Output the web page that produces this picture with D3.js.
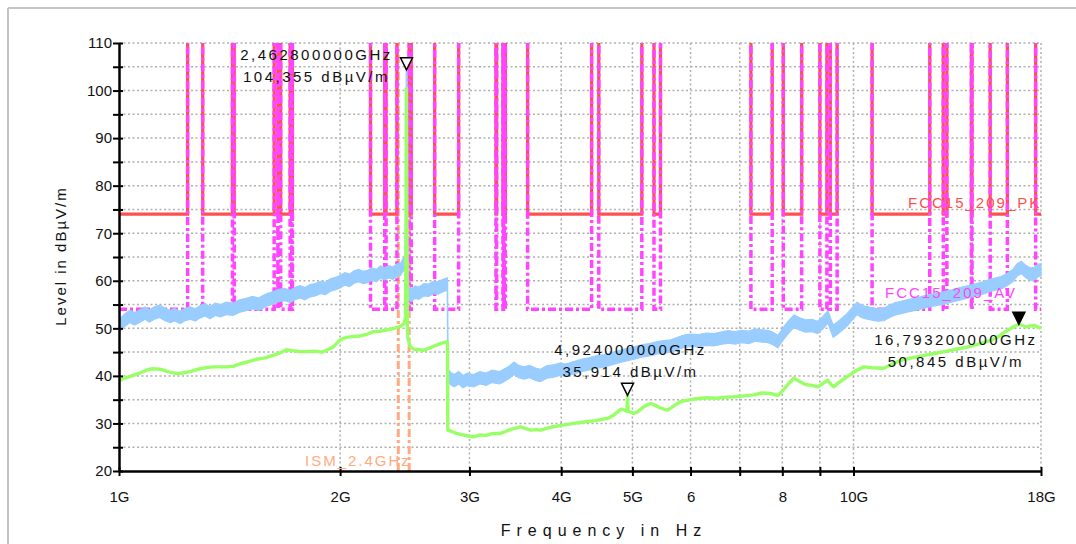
<!DOCTYPE html>
<html>
<head>
<meta charset="utf-8">
<script src="https://cdn.jsdelivr.net/npm/d3@7"></script>
<style>
  body { margin: 0; background: #fff; }
  svg { font-family: "Liberation Sans", Arial, sans-serif; }
</style>
</head>
<body>
<script>
const width = 1076,
      height = 544;

// frequency in GHz, level in dBµV/m
const peakTrace = [
  [1.000,50.4],[1.010,51.2],[1.020,51.8],[1.035,52.5],[1.050,52.0],[1.068,52.6],[1.085,53.2],[1.100,52.6],
  [1.120,53.3],[1.137,53.6],[1.155,52.9],[1.175,52.5],[1.190,52.9],[1.211,52.3],[1.230,52.9],[1.250,53.2],
  [1.270,52.8],[1.290,53.5],[1.310,53.9],[1.330,53.3],[1.352,54.0],[1.375,53.7],[1.400,54.2],[1.430,54.0],
  [1.460,54.7],[1.490,55.0],[1.520,55.4],[1.550,55.1],[1.590,56.0],[1.620,56.4],[1.650,56.9],[1.680,57.1],
  [1.710,56.7],[1.740,57.4],[1.765,57.7],[1.790,57.3],[1.820,57.9],[1.850,58.1],[1.880,58.6],[1.910,58.4],
  [1.940,59.1],[1.970,59.4],[2.000,59.8],[2.030,60.4],[2.060,60.1],[2.090,60.8],[2.120,61.1],[2.150,60.7],
  [2.180,60.9],[2.210,61.4],[2.240,61.1],[2.270,61.8],[2.300,61.5],[2.330,61.9],[2.360,61.6],[2.390,62.2],
  [2.420,62.5],[2.440,63.6],[2.452,62.8],[2.458,75],[2.4628,104.355],[2.467,78],[2.472,58.5],[2.480,57.2],
  [2.500,57.0],[2.530,57.6],[2.560,57.4],[2.600,58.1],[2.640,58.0],[2.680,58.6],[2.720,58.5],[2.760,59.0],
  [2.800,59.3],[2.803,40.2],[2.830,39.4],[2.860,39.0],[2.900,39.6],[2.940,38.8],[2.980,39.3],[3.040,39.0],
  [3.100,39.6],[3.160,39.3],[3.220,39.9],[3.300,39.6],[3.350,40.2],[3.400,40.8],[3.450,41.6],[3.500,40.9],
  [3.560,40.6],[3.620,40.9],[3.700,40.3],[3.750,40.1],[3.820,40.8],[3.900,41.0],[3.980,41.4],[4.060,41.2],
  [4.160,41.7],[4.260,42.2],[4.360,42.5],[4.460,42.9],[4.560,43.1],[4.660,43.5],[4.760,43.9],[4.860,44.3],
  [4.960,44.6],[5.060,44.9],[5.160,45.3],[5.280,45.5],[5.400,45.9],[5.520,46.1],[5.640,46.3],[5.760,46.8],
  [5.880,47.3],[6.000,47.5],[6.150,47.4],[6.300,47.7],[6.450,47.6],[6.600,47.9],[6.750,48.2],[6.900,48.0],
  [7.050,48.3],[7.200,48.1],[7.350,48.6],[7.500,48.4],[7.650,48.3],[7.780,47.8],[7.890,47.2],[8.000,48.6],
  [8.150,50.2],[8.300,51.5],[8.450,50.9],[8.600,50.5],[8.780,50.6],[8.940,50.2],[9.100,51.3],[9.230,52.4],
  [9.300,51.0],[9.380,49.4],[9.500,50.0],[9.650,50.9],[9.800,51.8],[9.950,53.0],[10.110,54.2],[10.250,53.6],
  [10.400,53.3],[10.600,53.0],[10.800,52.8],[11.000,52.9],[11.200,53.6],[11.400,54.1],[11.610,54.4],[11.900,54.8],
  [12.200,55.1],[12.500,55.6],[12.880,56.0],[13.200,56.3],[13.600,56.8],[14.000,57.3],[14.330,57.7],[14.700,58.1],
  [15.000,58.5],[15.400,59.1],[15.890,59.6],[16.200,60.3],[16.500,61.2],[16.700,62.3],[16.920,62.8],[17.150,62.0],
  [17.400,61.4],[17.630,61.5],[17.850,62.2],[18.000,62.3]
];

const avgTrace = [
  [1.000,39.0],[1.020,39.6],[1.040,40.0],[1.068,40.6],[1.090,41.2],[1.110,41.5],[1.137,41.4],[1.160,41.0],
  [1.180,40.7],[1.200,40.5],[1.220,40.6],[1.250,40.9],[1.289,41.5],[1.320,41.8],[1.350,41.9],[1.400,41.9],
  [1.430,42.0],[1.460,42.5],[1.500,43.0],[1.540,43.5],[1.580,43.8],[1.620,44.3],[1.660,44.9],[1.690,45.5],
  [1.720,45.3],[1.765,45.1],[1.800,45.1],[1.850,45.2],[1.890,45.0],[1.930,45.6],[1.958,46.1],[1.980,46.9],
  [2.000,47.6],[2.040,48.1],[2.090,48.3],[2.130,48.4],[2.180,48.8],[2.220,49.3],[2.270,49.4],[2.320,49.7],
  [2.370,50.0],[2.416,50.4],[2.445,51.0],[2.455,52.5],[2.459,70],[2.4628,100.5],[2.466,70],[2.469,50],
  [2.474,48.0],[2.490,46.2],[2.520,45.6],[2.560,45.5],[2.600,45.4],[2.650,45.9],[2.700,46.4],[2.750,46.9],
  [2.800,47.2],[2.803,28.6],[2.840,28.3],[2.880,27.9],[2.940,27.6],[3.000,27.3],[3.040,27.2],[3.100,27.6],
  [3.160,27.5],[3.230,27.9],[3.306,27.9],[3.360,28.3],[3.420,28.8],[3.470,29.0],[3.520,29.3],[3.580,28.9],
  [3.640,28.6],[3.700,28.7],[3.750,28.6],[3.830,29.0],[3.900,29.3],[4.000,29.6],[4.160,30.0],[4.300,30.3],
  [4.450,30.6],[4.630,31.1],[4.720,31.8],[4.820,33.0],[4.880,32.8],[4.915,32.6],[4.924,35.914],[4.933,32.6],
  [4.970,32.4],[5.020,32.1],[5.080,32.4],[5.150,33.2],[5.220,33.8],[5.296,34.2],[5.370,33.8],[5.450,33.3],
  [5.520,33.0],[5.587,32.8],[5.680,33.6],[5.818,34.6],[5.950,34.9],[6.100,35.2],[6.300,35.4],[6.500,35.3],
  [6.700,35.5],[6.873,35.6],[7.100,35.8],[7.320,36.0],[7.500,36.4],[7.700,36.3],[7.889,35.9],[8.000,36.8],
  [8.150,38.3],[8.295,39.5],[8.450,38.8],[8.600,38.2],[8.780,38.0],[8.944,37.7],[9.100,38.5],[9.230,39.1],
  [9.320,38.2],[9.406,37.7],[9.550,38.6],[9.798,39.8],[10.050,41.0],[10.330,41.9],[10.600,41.7],[11.000,41.6],
  [11.300,42.5],[11.610,43.3],[12.000,43.8],[12.400,44.2],[12.880,44.7],[13.400,45.2],[13.900,45.7],[14.330,46.1],
  [14.800,46.7],[15.400,47.5],[15.800,48.4],[16.100,49.3],[16.390,50.0],[16.600,50.5],[16.7932,50.845],[17.000,50.6],
  [17.200,50.3],[17.400,50.5],[17.630,50.6],[17.850,50.2],[18.000,50.0]
];

// FCC 15.205 restricted bands (GHz) where the 15.209 limits apply
const bandStart = [1.0, 1.3, 1.435, 1.6455, 1.66, 1.7188, 2.2, 2.31, 2.4835, 2.69, 3.26, 3.332, 3.3458,
                   3.6, 4.5, 5.35, 7.25, 8.025, 9.0, 9.3, 10.6, 13.25, 14.47, 15.35, 17.7];
const bandEnd   = [1.24, 1.427, 1.6265, 1.6465, 1.71, 1.7222, 2.3, 2.39, 2.5, 2.9, 3.267, 3.339, 3.358,
                   4.4, 5.15, 5.46, 7.75, 8.5, 9.2, 9.5, 12.7, 13.4, 14.5, 16.2, 18.0];
const pkLimit = 74, avLimit = 54, outOfBand = 130;

const ismEdges = [2.4, 2.4835];

const markerFreq  = [2.4628, 4.924, 16.7932];
const markerLevel = [104.355, 35.914, 50.845];
const markerText  = [["2,462800000GHz", "104,355 dBµV/m"],
                     ["4,924000000GHz", "35,914 dBµV/m"],
                     ["16,793200000GHz", "50,845 dBµV/m"]];
const markerFilled = [false, false, true];

const xTicks = [1, 2, 3, 4, 5, 6, 7, 8, 9, 10, 18];
const xTickLabels = ["1G", "2G", "3G", "4G", "5G", "6", "", "8", "", "10G", "18G"];
const yTicks = d3.range(20, 111, 5);

// layout
const plot = {left: 119, right: 1041, top: 43, bottom: 471};
const labelOffset = [[-90, -10, 12], [3, -40, -18], [-63, 21, 43]];
const peakBand = 1.3;   // drawn half thickness of the noisy peak trace, dB

const svg = d3.select("body")
    .append("svg")
    .attr("width", width)
    .attr("height", height);

// outer frame
svg.append("line").attr("x1", 8).attr("x2", width).attr("y1", 8).attr("y2", 8)
    .attr("stroke", "#c4c4c4").attr("stroke-width", 2);
svg.append("line").attr("x1", 8).attr("x2", 8).attr("y1", 8).attr("y2", height)
    .attr("stroke", "#c4c4c4").attr("stroke-width", 2);

const x = d3.scaleLog()
    .domain([1, 18])
    .range([plot.left, plot.right]);

const y = d3.scaleLinear()
    .domain([20, 110])
    .range([plot.bottom, plot.top]);

svg.append("clipPath").attr("id", "clip")
  .append("rect")
    .attr("x", plot.left).attr("y", plot.top)
    .attr("width", plot.right - plot.left + 3)
    .attr("height", plot.bottom - plot.top);

// grid
const grid = svg.append("g")
    .attr("stroke", "#b0b0b0")
    .attr("stroke-width", 1.5)
    .attr("stroke-dasharray", "2,2.5");

grid.selectAll("line.h")
    .data(yTicks.filter(d => d > 20))
    .enter().append("line")
    .attr("class", "h")
    .attr("x1", plot.left).attr("x2", plot.right)
    .attr("y1", d => y(d)).attr("y2", d => y(d));

grid.selectAll("line.v")
    .data(xTicks.filter(d => d > 1))
    .enter().append("line")
    .attr("class", "v")
    .attr("x1", d => x(d)).attr("x2", d => x(d))
    .attr("y1", plot.top).attr("y2", plot.bottom);

const line = d3.line()
    .x(d => x(d[0]))
    .y(d => y(d[1]));

const band = d3.area()
    .x(d => x(d[0]))
    .y0(d => y(d[1] - peakBand))
    .y1(d => y(d[1] + peakBand));

const marks = svg.append("g").attr("clip-path", "url(#clip)");

// ISM band edges
marks.selectAll("line.ism")
    .data(ismEdges)
    .enter().append("line")
    .attr("class", "ism")
    .attr("x1", d => x(d)).attr("x2", d => x(d))
    .attr("y1", plot.bottom).attr("y2", plot.top)
    .attr("stroke", "#ffaa80")
    .attr("stroke-width", 3)
    .attr("stroke-dasharray", "8,3,3,3");

const limitPoints = (level) => {
  const pts = [];
  bandStart.forEach((s, i) => {
    const e = bandEnd[i];
    if (s > x.domain()[0]) pts.push([s, outOfBand]);
    pts.push([s, level], [e, level]);
    if (e < x.domain()[1]) pts.push([e, outOfBand]);
  });
  return pts;
};

marks.append("path")
    .datum(limitPoints(pkLimit))
    .attr("d", line)
    .attr("fill", "none")
    .attr("stroke", "#ff4f4f")
    .attr("stroke-width", 3.2);

marks.append("path")
    .datum(limitPoints(avLimit))
    .attr("d", line)
    .attr("fill", "none")
    .attr("stroke", "#ff45ff")
    .attr("stroke-width", 3.5)
    .attr("stroke-dasharray", "8,3,3,3");

// peak trace: noisy band plus centre line
marks.append("path")
    .datum(peakTrace)
    .attr("d", band)
    .attr("fill", "#99ccff")
    .attr("stroke", "#99ccff")
    .attr("stroke-width", 1.2);

marks.append("path")
    .datum(peakTrace)
    .attr("d", line)
    .attr("fill", "none")
    .attr("stroke", "#99ccff")
    .attr("stroke-width", 1.5);

marks.append("path")
    .datum(avgTrace)
    .attr("d", line)
    .attr("fill", "none")
    .attr("stroke", "#99ff66")
    .attr("stroke-width", 3.4)
    .attr("stroke-linejoin", "round");

// axes
const xAxis = svg.append("g")
    .attr("transform", `translate(0,${plot.bottom})`)
    .call(d3.axisBottom(x)
      .tickValues(xTicks)
      .tickFormat((d, i) => xTickLabels[i])
      .tickSizeOuter(0));

xAxis.select(".domain").attr("stroke-width", 2.5);
xAxis.selectAll(".tick line").attr("y1", -4).attr("y2", 5).attr("stroke-width", 2);
xAxis.selectAll(".tick text")
    .attr("y", 20)
    .attr("font-size", 15)
    .attr("font-family", "Liberation Sans, Arial, sans-serif")
    .attr("fill", "#111");

const yAxis = svg.append("g")
    .attr("transform", `translate(${plot.left},0)`)
    .call(d3.axisLeft(y)
      .tickValues(yTicks)
      .tickFormat(d => d % 10 === 0 ? d : "")
      .tickSizeOuter(0));

yAxis.select(".domain").attr("stroke-width", 2.5);
yAxis.selectAll(".tick line").attr("x1", 4).attr("x2", -6).attr("stroke-width", 2);
yAxis.selectAll(".tick text")
    .attr("x", -7)
    .attr("font-size", 15)
    .attr("font-family", "Liberation Sans, Arial, sans-serif")
    .attr("fill", "#111");

// axis titles
svg.append("text")
    .attr("x", 604).attr("y", 536)
    .attr("text-anchor", "middle")
    .attr("font-size", 16)
    .attr("letter-spacing", 6)
    .attr("fill", "#111")
    .text("Frequency in Hz");

svg.append("text")
    .attr("transform", "translate(66,256) rotate(-90)")
    .attr("text-anchor", "middle")
    .attr("font-size", 15)
    .attr("letter-spacing", 2)
    .attr("fill", "#111")
    .text("Level in dBµV/m");

// line labels
svg.append("text")
    .attr("x", 908).attr("y", 208)
    .attr("font-size", 15).attr("letter-spacing", 2)
    .attr("fill", "#ff4f4f")
    .text("FCC15_209_PK");

svg.append("text")
    .attr("x", 885).attr("y", 298)
    .attr("font-size", 15).attr("letter-spacing", 2)
    .attr("fill", "#ff45ff")
    .text("FCC15_209_AV");

svg.append("text")
    .attr("x", 305).attr("y", 466)
    .attr("font-size", 15).attr("letter-spacing", 2)
    .attr("fill", "#ffaa80")
    .text("ISM_2.4GHz");

// markers
const markerG = svg.append("g");
markerFreq.forEach((f, i) => {
  const px = x(f), py = y(markerLevel[i]);
  markerG.append("path")
      .attr("d", `M${px},${py}l-6,-12h12z`)
      .attr("fill", markerFilled[i] ? "#000" : "#fff")
      .attr("stroke", "#000")
      .attr("stroke-width", 1.5);
  markerText[i].forEach((t, j) => {
    markerG.append("text")
        .attr("x", px + labelOffset[i][0])
        .attr("y", py + labelOffset[i][j + 1])
        .attr("text-anchor", "middle")
        .attr("font-size", 15)
        .attr("letter-spacing", 2.5)
        .attr("fill", "#111")
        .text(t);
  });
});
</script>
</body>
</html>
